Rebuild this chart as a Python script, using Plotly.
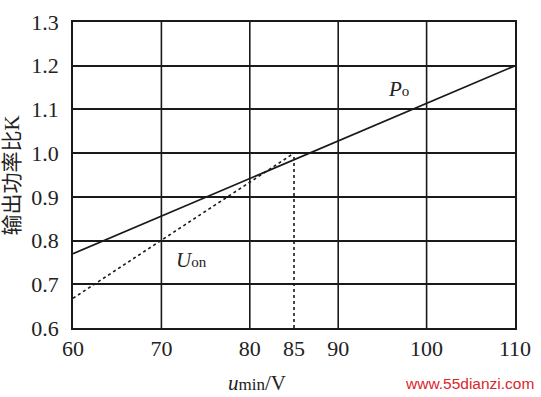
import plotly.graph_objects as go

# Data
x_ticks = [60, 70, 80, 85, 90, 100, 110]
y_ticks = [0.6, 0.7, 0.8, 0.9, 1.0, 1.1, 1.2, 1.3]

po_x = [60, 110]
po_y = [0.77, 1.2]

uon_x = [60, 85]
uon_y = [0.668, 1.0]

guide_v_x = [85, 85]
guide_v_y = [0.6, 1.0]
guide_h_x = [85, 110]
guide_h_y = [1.0, 1.0]

SERIF = "Liberation Serif"
LINE = "#1a1a1a"

fig = go.Figure()
fig.add_trace(go.Scatter(x=po_x, y=po_y, mode="lines",
                         line=dict(color=LINE, width=1.8), showlegend=False))
fig.add_trace(go.Scatter(x=uon_x, y=uon_y, mode="lines",
                         line=dict(color=LINE, width=1.6, dash="dot"), showlegend=False))
fig.add_trace(go.Scatter(x=guide_v_x, y=guide_v_y, mode="lines",
                         line=dict(color=LINE, width=1.6, dash="dot"), showlegend=False))
fig.add_trace(go.Scatter(x=guide_h_x, y=guide_h_y, mode="lines",
                         line=dict(color=LINE, width=1.6, dash="dot"), showlegend=False))

fig.update_xaxes(range=[60, 110], tickvals=x_ticks, ticktext=[str(v) for v in x_ticks],
                 showgrid=False, zeroline=False, showline=True, mirror=True,
                 linecolor=LINE, linewidth=1.6, ticks="",
                 tickfont=dict(family=SERIF, size=22, color="#222"),
                 ticklabelstandoff=0)
fig.update_yaxes(range=[0.6, 1.3001], tickvals=y_ticks, ticktext=[f"{v:.1f}" for v in y_ticks],
                 showgrid=True, gridcolor=LINE, gridwidth=1.6, zeroline=False,
                 showline=True, mirror=True, linecolor=LINE, linewidth=1.6, ticks="",
                 tickfont=dict(family=SERIF, size=22, color="#222"),
                 ticklabelstandoff=8, ticklabeloverflow="allow")

# vertical solid grid at 60..110 step 10 (not at 85)
for gx in [70, 80, 90, 100]:
    fig.add_vline(x=gx, line=dict(color=LINE, width=1.6), layer="below")

fig.add_annotation(x=96.85, y=1.146, xref="x", yref="y", showarrow=False,
                   text="<i>P</i><span style='font-size:15px'>o</span>",
                   font=dict(family=SERIF, size=21, color="#222"))
fig.add_annotation(x=73.4, y=0.756, xref="x", yref="y", showarrow=False,
                   text="<i>U</i><span style='font-size:15px'>on</span>",
                   font=dict(family=SERIF, size=21, color="#222"))

fig.add_annotation(x=-(73 - 12) / 445, y=0.5, xref="paper", yref="paper",
                   showarrow=False, textangle=-90, xanchor="center", yanchor="middle",
                   text="输出功率比K",
                   font=dict(family="Liberation Serif, Noto Sans CJK SC", size=21, color="#222"))
fig.add_annotation(x=(258 - 73) / 445, y=(328 - 385) / 318, xref="paper", yref="paper",
                   showarrow=False, xanchor="center", yanchor="middle",
                   text="<i>u</i><span style='font-size:17px'>min</span>/V",
                   font=dict(family=SERIF, size=21, color="#222"))
fig.add_annotation(x=(472 - 73) / 445, y=(328 - 386) / 318, xref="paper", yref="paper",
                   showarrow=False, xanchor="center", yanchor="middle",
                   text="www.55dianzi.com",
                   font=dict(family="Liberation Sans, Arial, sans-serif", size=15.5, color="#d9262a"))

fig.update_layout(width=541, height=397,
                  margin=dict(l=73, r=23, t=10, b=69),
                  plot_bgcolor="white", paper_bgcolor="white")

fig.write_html("out.html")
